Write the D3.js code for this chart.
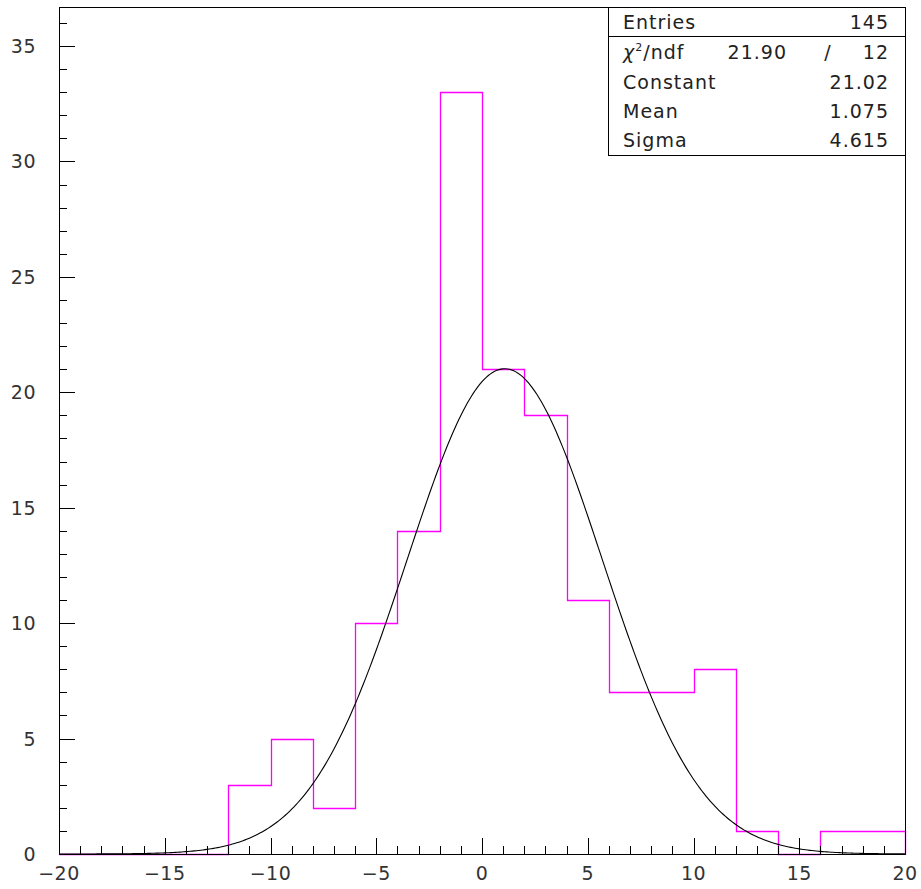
<!DOCTYPE html>
<html><head><meta charset="utf-8">
<script src="https://cdn.jsdelivr.net/npm/d3@7"></script>
<style>html,body{margin:0;padding:0;background:#fff;}</style>
</head><body>
<svg id="c" width="921" height="889"></svg>
<script>
// ---- data ----
const binEdges = [-20,-18,-16,-14,-12,-10,-8,-6,-4,-2,0,2,4,6,8,10,12,14,16,18,20];
const binCounts = [0,0,0,0,3,5,2,10,14,33,21,19,11,7,7,8,1,0,1,1];
const xTicks = [-20,-15,-10,-5,0,5,10,15,20];
const yTicks = [0,5,10,15,20,25,30,35];
const statLabels = ["Entries","Constant","Mean","Sigma"];
const statValues = ["145","21.02","1.075","4.615"];
const chi2 = "21.90", ndf = "12";
const fitConstant = 21.02, fitMean = 1.075, fitSigma = 4.615;

const svg = d3.select("#c");
const L=59, R=905, T=7, B=854;
const x = d3.scaleLinear().domain([-20,20]).range([L,R]);
const y = d3.scaleLinear().domain([0,36.69]).range([B,T]);
const font = "DejaVu Sans, sans-serif";
const txtCol = "#333";

// histogram outline
const pts = [[binEdges[0],0]];
binCounts.forEach((c,i)=>{pts.push([binEdges[i],c]);pts.push([binEdges[i+1],c]);});
pts.push([binEdges[binEdges.length-1],0]);
svg.append("path")
  .attr("d", d3.line().x(d=>Math.round(x(d[0]))+0.5).y(d=>Math.round(y(d[1]))+0.5)(pts))
  .attr("fill","none").attr("stroke","#ff00ff").attr("stroke-width",1.3);

// gaussian fit curve from fitted parameters
const gx = d3.range(-20,20.001,0.1);
svg.append("path")
  .attr("d", d3.line().x(d=>x(d)).y(d=>y(fitConstant*Math.exp(-0.5*Math.pow((d-fitMean)/fitSigma,2))))(gx))
  .attr("fill","none").attr("stroke","#000").attr("stroke-width",1.1);

// frame
svg.append("rect").attr("x",L+0.5).attr("y",T+0.5).attr("width",R-L).attr("height",B-T)
  .attr("fill","none").attr("stroke","#000").attr("stroke-width",1);

// x ticks
const xMinor = d3.range(-20,21,1);
svg.append("g").selectAll("line").data(xMinor).join("line")
  .attr("x1",d=>Math.round(x(d))+0.5).attr("x2",d=>Math.round(x(d))+0.5)
  .attr("y1",B).attr("y2",d=>B-(d%5===0?16:8))
  .attr("stroke","#000").attr("stroke-width",1);
svg.append("g").selectAll("text").data(xTicks).join("text")
  .attr("x",d=>x(d)).attr("y",880).attr("text-anchor","middle")
  .attr("font-family",font).attr("font-size",19).attr("fill",txtCol)
  .attr("letter-spacing",0.5)
  .text(d=>d<0?"\u2212"+Math.abs(d):String(d));

// y ticks
const yMinor = d3.range(0,37,1);
svg.append("g").selectAll("line").data(yMinor).join("line")
  .attr("y1",d=>Math.round(y(d))+0.5).attr("y2",d=>Math.round(y(d))+0.5)
  .attr("x1",L).attr("x2",d=>L+(d%5===0?16:8))
  .attr("stroke","#000").attr("stroke-width",1);
svg.append("g").selectAll("text").data(yTicks).join("text")
  .attr("x",36).attr("y",d=>y(d)+7).attr("text-anchor","end")
  .attr("font-family",font).attr("font-size",19).attr("fill",txtCol)
  .attr("letter-spacing",0.5)
  .text(d=>String(d));

// stats box
const bx0=608, bx1=905, by0=7, by1=155;
svg.append("rect").attr("x",bx0+0.5).attr("y",by0+0.5).attr("width",bx1-bx0).attr("height",by1-by0)
  .attr("fill","#fff").attr("stroke","#000").attr("stroke-width",1);
svg.append("line").attr("x1",bx0).attr("x2",bx1).attr("y1",36.5).attr("y2",36.5).attr("stroke","#000");
const sg = svg.append("g").attr("font-family",font).attr("font-size",19).attr("fill","#222")
  .attr("letter-spacing",1);
const rowY = [29, 89, 118, 147];
statLabels.forEach((lab,i)=>{
  sg.append("text").attr("x",623).attr("y",rowY[i]).text(lab);
  sg.append("text").attr("x",889).attr("y",rowY[i]).attr("text-anchor","end").text(statValues[i]);
});
const chiT = sg.append("text").attr("x",623).attr("y",59);
chiT.append("tspan").attr("font-style","italic").text("\u03C7");
chiT.append("tspan").attr("font-size",11).attr("dy",-8).text("2");
chiT.append("tspan").attr("dy",8).text("/ndf");
sg.append("text").attr("x",787).attr("y",59).attr("text-anchor","end").text(chi2);
sg.append("text").attr("x",828).attr("y",59).attr("text-anchor","middle").text("/");
sg.append("text").attr("x",889).attr("y",59).attr("text-anchor","end").text(ndf);
</script>
</body></html>
